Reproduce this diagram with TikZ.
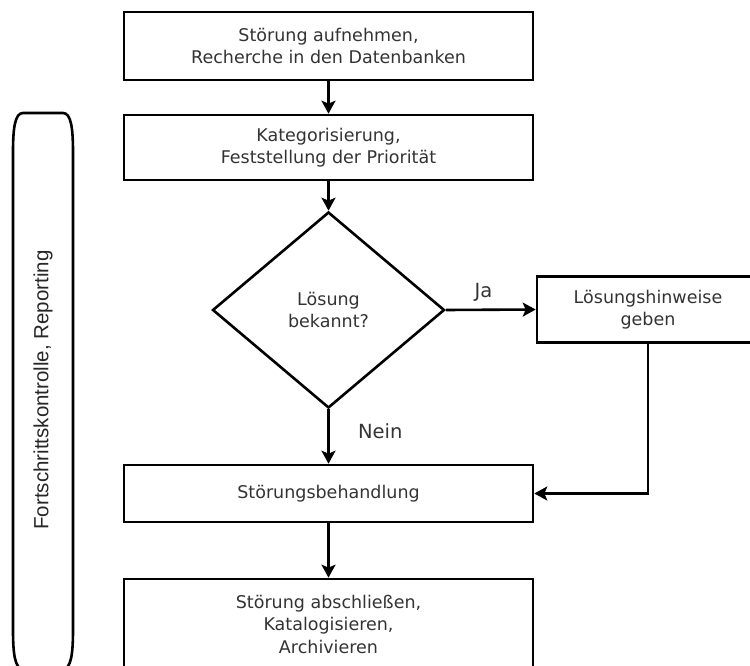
\documentclass[tikz,border=0pt]{standalone}
\usepackage{fontspec}
\setmainfont{DejaVu Sans}
\newfontfamily\sidefont{Liberation Sans}
\usetikzlibrary{shapes.geometric,arrows.meta}
\begin{document}
\begin{tikzpicture}[x=1pt,y=-1pt,
  every node/.style={font=\fontsize{17.5}{22.5}\selectfont, text=black!80},
  flowbox/.style={draw=black, text=black!80, line width=2.6pt, rectangle, inner sep=0pt, align=center, minimum width=409pt},
  decision/.style={draw=black, text=black!80, line width=2.6pt, diamond, inner sep=0pt, align=center, minimum width=232pt, minimum height=196pt},
  flowarrow/.style={draw=black, line width=2.6pt, -{Stealth[length=13pt,width=14pt,inset=3pt]}},
  sidebar/.style={draw=black, line width=2.6pt, line join=round},
  lbl/.style={font=\fontsize{19.5}{22}\selectfont, text=black!80}
]
\useasboundingbox (0,0) rectangle (750,666);
\clip (0,0) rectangle (750,666);

\node[flowbox, minimum height=68pt] (b1) at (328.5,46) {Störung aufnehmen,\\Recherche in den Datenbanken};
\node[flowbox, minimum height=65pt] (b2) at (328.5,147.5) {Kategorisierung,\\Feststellung der Priorität};
\node[decision] (d) at (328.5,310) {Lösung\\bekannt?};
\node[flowbox, minimum width=222pt, minimum height=66pt] (b3) at (648,309.5) {Lösungshinweise\\geben};
\node[flowbox, minimum height=57pt] (b4) at (328.5,493.5) {Störungsbehandlung};
\node[flowbox, minimum height=90pt] (b5) at (328.5,624) {Störung abschließen,\\Katalogisieren,\\Archivieren};

\draw[flowarrow] (b1.south) -- (b2.north);
\draw[flowarrow] (b2.south) -- (d.north);
\draw[flowarrow] (d.east) -- (b3.west) node[lbl, pos=0.42, above=4pt] {Ja};
\draw[flowarrow] (d.south) -- (b4.north) node[lbl, pos=0.4, right=25pt] {Nein};
\draw[flowarrow] (b3.south) |- (b4.east);
\draw[flowarrow] (b4.south) -- (b5.north);

\draw[sidebar] (13,152) .. controls (13,128) and (15,113) .. (23,113) -- (63,113)
  .. controls (71,113) and (73,128) .. (73,152) -- (73,630)
  .. controls (73,654) and (71,669) .. (63,669) -- (23,669)
  .. controls (15,669) and (13,654) .. (13,630) -- cycle;
\node[font=\sidefont\fontsize{20.5}{24}\selectfont, text=black!85, rotate=90] (side) at (43,390) {Fortschrittskontrolle, Reporting};
\end{tikzpicture}
\end{document}
